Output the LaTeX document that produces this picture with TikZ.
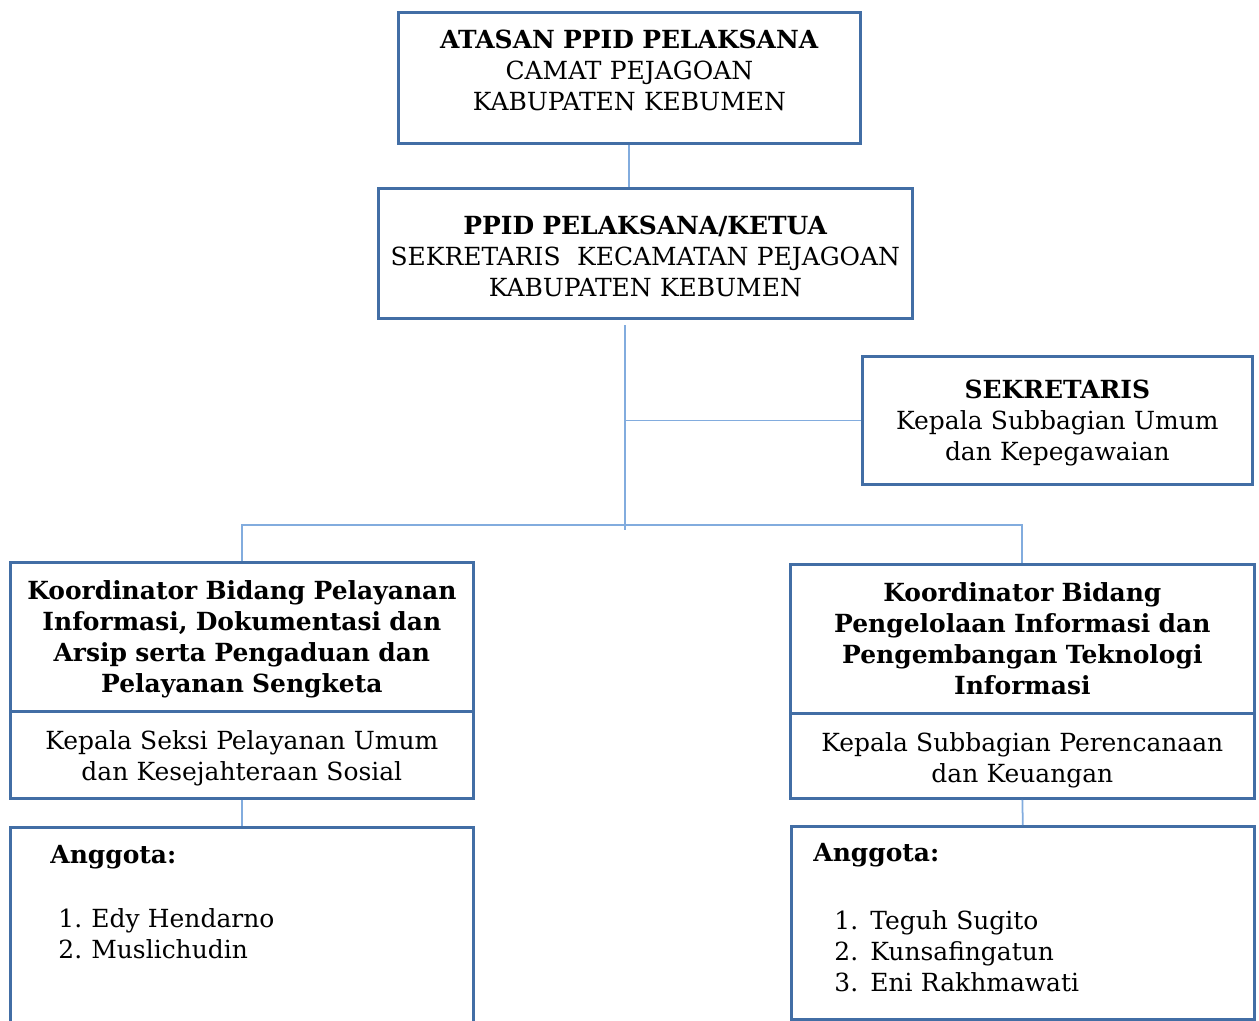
\documentclass[tikz,border=0pt]{standalone}
\usepackage{fontspec}
\setmainfont{DejaVu Serif}
\definecolor{boxblue}{RGB}{66,110,165}
\definecolor{linkblue}{RGB}{130,172,222}

\begin{document}
\begin{tikzpicture}[x=0.02cm,y=-0.02cm,
        box/.style={draw=boxblue,line width=1.6pt,anchor=north west,inner sep=0pt,
            align=center,font=\fontsize{14.2}{17.6}\selectfont},
        member/.style={box,align=left},
        link/.style={linkblue,line width=1pt}]
    % Frame
    \useasboundingbox (0,0) rectangle (1259,1021);

    % Pimpinan
    \node[box,text width=9.24cm,text height=0.72cm,text depth=1.9cm] (atasan) at (397,11)
        {\textbf{ATASAN PPID PELAKSANA}\\CAMAT PEJAGOAN\\KABUPATEN KEBUMEN};
    \node[box,text width=10.68cm,text height=0.92cm,text depth=1.68cm] (ketua) at (377,187)
        {\textbf{PPID PELAKSANA/KETUA}\\SEKRETARIS\ \ KECAMATAN PEJAGOAN\\KABUPATEN KEBUMEN};
    \node[box,text width=7.8cm,text height=0.84cm,text depth=1.72cm] (sekretaris) at (861,355)
        {\textbf{SEKRETARIS}\\Kepala Subbagian Umum\\dan Kepegawaian};

    % Koordinator bidang
    \node[box,text width=9.26cm,text height=0.74cm,text depth=2.24cm] (koordkiri) at (9,561)
        {\textbf{Koordinator Bidang Pelayanan}\\\textbf{Informasi, Dokumentasi dan}\\
         \textbf{Arsip serta Pengaduan dan}\\\textbf{Pelayanan Sengketa}};
    \node[box,text width=9.26cm,text height=0.76cm,text depth=0.98cm] (seksikiri) at (9,710)
        {Kepala Seksi Pelayanan Umum\\dan Kesejahteraan Sosial};
    \node[box,text width=9.28cm,text height=0.74cm,text depth=2.24cm] (koordkanan) at (789,563)
        {\textbf{Koordinator Bidang}\\\textbf{Pengelolaan Informasi dan}\\
         \textbf{Pengembangan Teknologi}\\\textbf{Informasi}};
    \node[box,text width=9.28cm,text height=0.76cm,text depth=0.94cm] (seksikanan) at (789,712)
        {Kepala Subbagian Perencanaan\\dan Keuangan};

    % Anggota
    \node[member,text width=9.26cm,text height=0.72cm,text depth=3.36cm] (anggotakiri) at (9,826)
        {\hspace*{0.8cm}\textbf{Anggota:}\\[19pt]
         \hspace*{0.96cm}\makebox[0.66cm][l]{1.}Edy Hendarno\\
         \hspace*{0.96cm}\makebox[0.66cm][l]{2.}Muslichudin};
    \node[member,text width=9.26cm,text height=0.7cm,text depth=3.16cm] (anggotakanan) at (790,825)
        {\hspace*{0.44cm}\textbf{Anggota:}\\[21pt]
         \hspace*{0.86cm}\makebox[0.72cm][l]{1.}Teguh Sugito\\
         \hspace*{0.86cm}\makebox[0.72cm][l]{2.}Kunsafingatun\\
         \hspace*{0.86cm}\makebox[0.72cm][l]{3.}Eni Rakhmawati};

    % Garis
    \coordinate (trunktop) at (625,325);
    \coordinate (trunk) at (625,525);
    \coordinate (trunkend) at (625,530);
    \draw[link] (atasan.south) -- (atasan.south |- ketua.north);
    \draw[link] (trunktop) -- (trunkend);
    \draw[link] (trunk |- sekretaris.west) -- (sekretaris.west);
    \draw[link] (koordkiri.north) |- (trunk) -| (koordkanan.north);
    \draw[link] (seksikiri.south) -- (anggotakiri.north);
    \draw[link] (seksikanan.south) -- (anggotakanan.north);
\end{tikzpicture}
\end{document}
